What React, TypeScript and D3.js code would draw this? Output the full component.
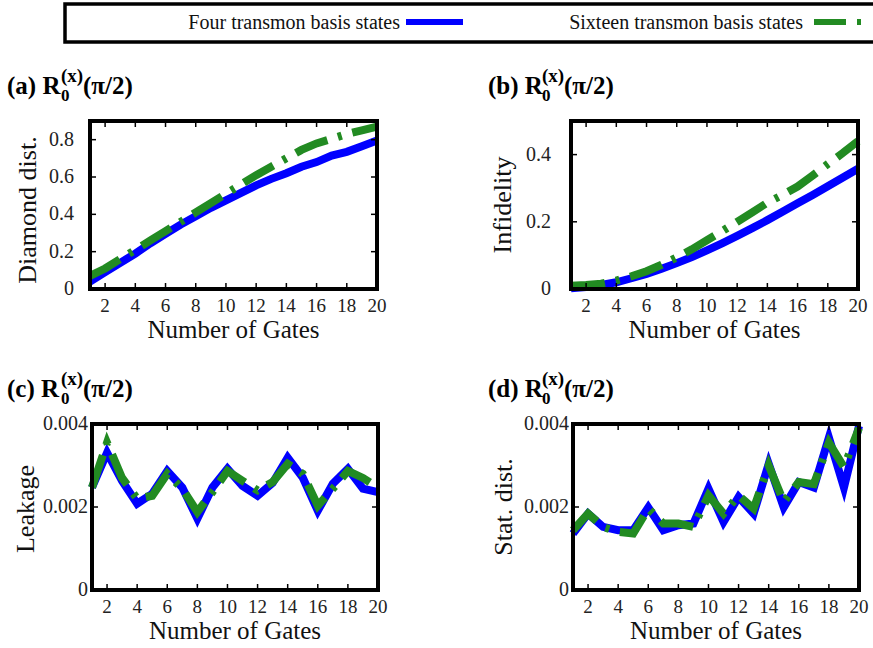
import React from "react";
import * as d3 from "d3";

const gates = d3.range(1, 21);

const diamondFour = [0.04, 0.09, 0.14, 0.19, 0.245, 0.295, 0.345, 0.39, 0.435, 0.475, 0.515, 0.555, 0.59, 0.62, 0.655, 0.68, 0.715, 0.735, 0.765, 0.795];
const diamondSixteen = [0.07, 0.11, 0.16, 0.21, 0.26, 0.31, 0.36, 0.41, 0.46, 0.51, 0.56, 0.61, 0.655, 0.7, 0.745, 0.78, 0.805, 0.83, 0.85, 0.87];

const infidFour = [0.002, 0.006, 0.012, 0.02, 0.032, 0.045, 0.06, 0.077, 0.095, 0.115, 0.136, 0.158, 0.181, 0.205, 0.23, 0.255, 0.28, 0.306, 0.332, 0.358];
const infidSixteen = [0.01, 0.012, 0.016, 0.025, 0.038, 0.053, 0.072, 0.094, 0.118, 0.145, 0.172, 0.2, 0.228, 0.257, 0.28, 0.305, 0.338, 0.372, 0.405, 0.44];

const leakFour = [0.00247, 0.00331, 0.00263, 0.00208, 0.00232, 0.00287, 0.00247, 0.00172, 0.00247, 0.00292, 0.00251, 0.00227, 0.00258, 0.00319, 0.00271, 0.00191, 0.00256, 0.00292, 0.00244, 0.00236];
const leakSixteen = [0.00247, 0.00355, 0.0027, 0.0022, 0.00227, 0.0028, 0.00244, 0.00188, 0.00236, 0.00287, 0.00263, 0.0024, 0.0026, 0.00304, 0.0028, 0.00203, 0.00244, 0.00287, 0.0027, 0.00247];

const statFour = [0.00136, 0.00184, 0.00152, 0.00144, 0.00144, 0.00199, 0.00144, 0.00156, 0.0016, 0.00244, 0.00164, 0.00224, 0.00184, 0.00304, 0.00199, 0.0026, 0.00247, 0.00367, 0.00247, 0.00395];
const statSixteen = [0.00144, 0.00184, 0.00152, 0.0014, 0.00136, 0.00196, 0.0016, 0.0016, 0.00152, 0.00228, 0.00184, 0.00228, 0.00196, 0.003, 0.00212, 0.0026, 0.00255, 0.00355, 0.00296, 0.0039];

const xTicks = [2, 4, 6, 8, 10, 12, 14, 16, 18, 20];
const ticksA = [0, 0.2, 0.4, 0.6, 0.8];
const ticksB = [0, 0.2, 0.4];
const ticksCD = [0, 0.002, 0.004];

const seriesNames = ["Four transmon basis states", "Sixteen transmon basis states"];
const panelLetters = ["(a)", "(b)", "(c)", "(d)"];
const yLabels = ["Diamond dist.", "Infidelity", "Leakage", "Stat. dist."];

const FONT = "'Liberation Serif', 'Times New Roman', Times, serif";
const BLUE = "#0000ff";
const GREEN = "#228b22";
const DASH = "34,11,4,11";

type Panel = {
  letter: string;
  ylabel: string;
  four: number[];
  sixteen: number[];
  yMax: number;
  yTicks: number[];
  fmt: (v: number) => string;
  left: number;
  right: number;
  top: number;
  bottom: number;
  tickRight: number;
  ylabX: number;
  ylabY: number;
  titleX: number;
  titleY: number;
};

const fmtA = (v: number) => (v === 0 ? "0" : d3.format(".1f")(v));
const fmtC = (v: number) => (v === 0 ? "0" : d3.format(".3f")(v));

const panels: Panel[] = [
  { letter: panelLetters[0], ylabel: yLabels[0], four: diamondFour, sixteen: diamondSixteen, yMax: 0.9, yTicks: ticksA, fmt: fmtA,
    left: 90, right: 377, top: 121, bottom: 289, tickRight: 74, ylabX: 36, ylabY: 210, titleX: 7, titleY: 94 },
  { letter: panelLetters[1], ylabel: yLabels[1], four: infidFour, sixteen: infidSixteen, yMax: 0.5, yTicks: ticksB, fmt: fmtA,
    left: 571, right: 858, top: 121, bottom: 289, tickRight: 551, ylabX: 511, ylabY: 205, titleX: 488, titleY: 94 },
  { letter: panelLetters[2], ylabel: yLabels[2], four: leakFour, sixteen: leakSixteen, yMax: 0.004, yTicks: ticksCD, fmt: fmtC,
    left: 92, right: 378, top: 424, bottom: 590, tickRight: 88, ylabX: 34, ylabY: 509, titleX: 7, titleY: 397 },
  { letter: panelLetters[3], ylabel: yLabels[3], four: statFour, sixteen: statSixteen, yMax: 0.004, yTicks: ticksCD, fmt: fmtC,
    left: 573, right: 859, top: 424, bottom: 590, tickRight: 569, ylabX: 512, ylabY: 507, titleX: 488, titleY: 397 },
];

function Title({ x, y, letter }: { x: number; y: number; letter: string }) {
  return (
    <g fontFamily={FONT} fontWeight="bold" fill="#000">
      <text x={x} y={y} fontSize={25}>{letter + " R"}</text>
      <text x={x + 54} y={y + 7} fontSize={17}>0</text>
      <text x={x + 54} y={y - 12} fontSize={19}>(x)</text>
      <text x={x + 76} y={y} fontSize={25}>(π/2)</text>
    </g>
  );
}

function PanelView({ p }: { p: Panel }) {
  const x = d3.scaleLinear().domain([1, 20]).range([p.left, p.right]);
  const y = d3.scaleLinear().domain([0, p.yMax]).range([p.bottom, p.top]);
  const line = d3
    .line<number>()
    .x((_, i) => x(gates[i]))
    .y((d) => y(d));
  const tl = 6;
  return (
    <g>
      <path d={line(p.four) || ""} fill="none" stroke={BLUE} strokeWidth={8} />
      <path d={line(p.sixteen) || ""} fill="none" stroke={GREEN} strokeWidth={8} strokeDasharray={DASH} />
      {xTicks.map((t) => (
        <g key={"x" + t}>
          <line x1={x(t)} x2={x(t)} y1={p.bottom} y2={p.bottom - tl} stroke="#000" strokeWidth={1.5} />
          <line x1={x(t)} x2={x(t)} y1={p.top} y2={p.top + tl} stroke="#000" strokeWidth={1.5} />
          <text x={x(t)} y={p.bottom + 23} fontSize={19} fontFamily={FONT} textAnchor="middle" fill="#222">
            {t}
          </text>
        </g>
      ))}
      {p.yTicks.map((t) => (
        <g key={"y" + t}>
          <line x1={p.left} x2={p.left + tl} y1={y(t)} y2={y(t)} stroke="#000" strokeWidth={1.5} />
          <line x1={p.right} x2={p.right - tl} y1={y(t)} y2={y(t)} stroke="#000" strokeWidth={1.5} />
          <text x={p.tickRight} y={y(t) + 6} fontSize={20} fontFamily={FONT} textAnchor="end" fill="#222">
            {p.fmt(t)}
          </text>
        </g>
      ))}
      <rect x={p.left} y={p.top} width={p.right - p.left} height={p.bottom - p.top} fill="none" stroke="#000" strokeWidth={4} />
      <text x={(p.left + p.right) / 2} y={p.bottom + 49} fontSize={25} fontFamily={FONT} textAnchor="middle" fill="#111">
        Number of Gates
      </text>
      <text
        transform={`translate(${p.ylabX},${p.ylabY}) rotate(-90)`}
        fontSize={26}
        fontFamily={FONT}
        textAnchor="middle"
        fill="#111"
      >
        {p.ylabel}
      </text>
      <Title x={p.titleX} y={p.titleY} letter={p.letter} />
    </g>
  );
}

export default function App() {
  return (
    <svg
      width={873}
      height={648}
      viewBox="0 0 873 648"
      style={{ position: "absolute", left: 0, top: 0, background: "#fff" }}
    >
      <rect x={0} y={0} width={873} height={648} fill="#fff" />
      <rect x={65} y={4} width={840} height={38} fill="none" stroke="#000" strokeWidth={3.5} />
      <text x={400} y={29} fontSize={20} fontFamily={FONT} textAnchor="end" fill="#111">
        {seriesNames[0]}
      </text>
      <line x1={406} x2={463} y1={22} y2={22} stroke={BLUE} strokeWidth={6} />
      <text x={803} y={29} fontSize={20} fontFamily={FONT} textAnchor="end" fill="#111">
        {seriesNames[1]}
      </text>
      <line x1={814} x2={871} y1={22} y2={22} stroke={GREEN} strokeWidth={6} strokeDasharray="32,11,4,11" />
      {panels.map((p) => (
        <PanelView key={p.letter} p={p} />
      ))}
    </svg>
  );
}
